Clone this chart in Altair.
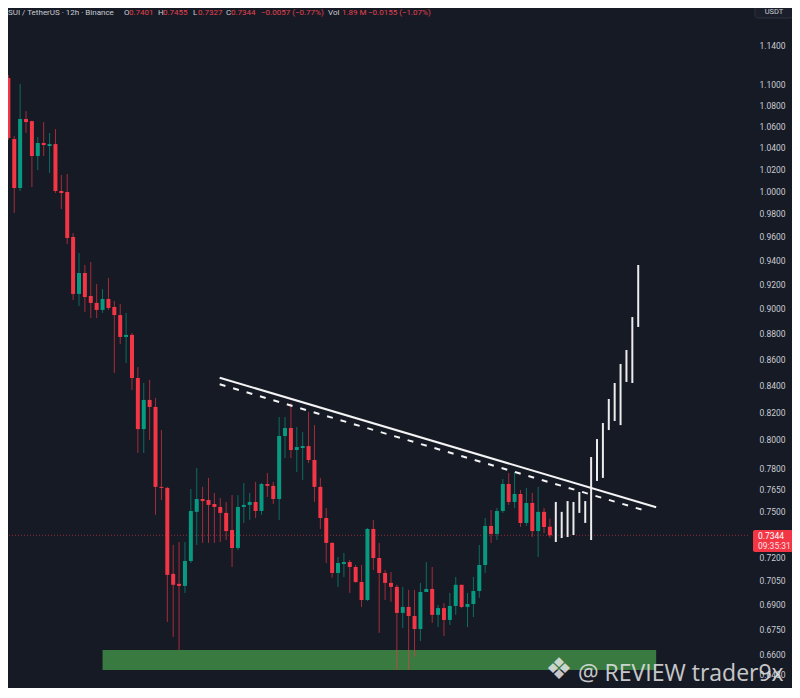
import altair as alt
import pandas as pd

# ---- candle data (12h SUI/USDT) ----
opens = [1.1068, 1.0478, 1.0028, 1.0668, 1.0648, 1.0320, 1.0441, 1.0413, 1.0431, 1.0001,
         0.9992, 0.9597, 0.9119, 0.9292, 0.9102, 0.9046, 0.8989, 0.9078, 0.9013, 0.8948,
         0.8774, 0.8790, 0.8457, 0.8078, 0.8292, 0.8240, 0.7670, 0.7663, 0.7094, 0.7031,
         0.7018, 0.7177, 0.7500, 0.7587, 0.7580, 0.7553, 0.7533, 0.7493, 0.7379, 0.7261,
         0.7533, 0.7547, 0.7567, 0.7506, 0.7690, 0.7677, 0.7587, 0.8028, 0.8086, 0.7928,
         0.7942, 0.7956, 0.7857, 0.7670, 0.7459, 0.7294, 0.7100, 0.7157, 0.7170, 0.7138,
         0.7043, 0.6930, 0.7386, 0.7196, 0.7100, 0.7037, 0.7012, 0.6850, 0.6887, 0.6831,
         0.6752, 0.6980, 0.6999, 0.6838, 0.6880, 0.6807, 0.6893, 0.7025, 0.6887, 0.6905,
         0.6986, 0.7151, 0.7406, 0.7353, 0.7506, 0.7690, 0.7567, 0.7621, 0.7426, 0.7560,
         0.7372, 0.7500, 0.7401]
highs = [1.1098, 1.0507, 1.1008, 1.0744, 1.0652, 1.0497, 1.0639, 1.0535, 1.0572, 1.0146,
         1.0155, 0.9631, 0.9460, 0.9359, 0.9384, 0.9201, 0.9159, 0.9251, 0.9062, 0.9038,
         0.8965, 0.8805, 0.8541, 0.8419, 0.8442, 0.8307, 0.8071, 0.7670, 0.7281, 0.7300,
         0.7300, 0.7656, 0.7801, 0.7670, 0.7732, 0.7628, 0.7594, 0.7567, 0.7614, 0.7614,
         0.7697, 0.7628, 0.7704, 0.7697, 0.7766, 0.7704, 0.8166, 0.8166, 0.8270, 0.8093,
         0.8057, 0.8203, 0.8107, 0.7732, 0.7526, 0.7300, 0.7202, 0.7229, 0.7183, 0.7151,
         0.7151, 0.7392, 0.7446, 0.7294, 0.7119, 0.7106, 0.7025, 0.7012, 0.6993, 0.6993,
         0.7037, 0.7170, 0.7138, 0.6899, 0.6911, 0.6974, 0.7075, 0.7025, 0.6974, 0.7075,
         0.7281, 0.7459, 0.7513, 0.7526, 0.7725, 0.7766, 0.7773, 0.7649, 0.7663, 0.7628,
         0.7670, 0.7526, 0.7455]
lows = [1.0469, 0.9806, 1.0001, 1.0535, 1.0037, 1.0191, 1.0320, 1.0164, 0.9983, 0.9841,
        0.9537, 0.9070, 0.9021, 0.8973, 0.8924, 0.8924, 0.8965, 0.8989, 0.8495, 0.8719,
        0.8571, 0.8366, 0.7907, 0.7907, 0.7999, 0.7480, 0.7580, 0.6795, 0.6704, 0.6626,
        0.6974, 0.7164, 0.7281, 0.7294, 0.7294, 0.7294, 0.7300, 0.7313, 0.7138, 0.7248,
        0.7426, 0.7446, 0.7459, 0.7480, 0.7601, 0.7553, 0.7446, 0.7871, 0.7871, 0.7773,
        0.7718, 0.7836, 0.7567, 0.7386, 0.7164, 0.7069, 0.7012, 0.7075, 0.6974, 0.7037,
        0.6887, 0.6924, 0.7119, 0.6728, 0.6930, 0.6918, 0.6508, 0.6758, 0.6508, 0.6585,
        0.6680, 0.6980, 0.6789, 0.6764, 0.6710, 0.6776, 0.6838, 0.6880, 0.6764, 0.6825,
        0.6943, 0.7100, 0.7294, 0.7313, 0.7493, 0.7547, 0.7526, 0.7399, 0.7406, 0.7333,
        0.7202, 0.7359, 0.7327]
closes = [1.0488, 1.0028, 1.0668, 1.0639, 1.0320, 1.0441, 1.0422, 1.0431, 1.0001, 0.9983,
          0.9588, 0.9119, 0.9292, 0.9094, 0.9046, 0.8989, 0.9078, 0.9005, 0.8948, 0.8774,
          0.8790, 0.8457, 0.8078, 0.8292, 0.8240, 0.7670, 0.7663, 0.7088, 0.7025, 0.7018,
          0.7177, 0.7506, 0.7587, 0.7573, 0.7547, 0.7533, 0.7493, 0.7372, 0.7261, 0.7533,
          0.7547, 0.7567, 0.7506, 0.7690, 0.7677, 0.7587, 0.8028, 0.8086, 0.7928, 0.7949,
          0.7956, 0.7857, 0.7670, 0.7459, 0.7294, 0.7100, 0.7164, 0.7170, 0.7138, 0.7043,
          0.6930, 0.7386, 0.7196, 0.7100, 0.7037, 0.7012, 0.6850, 0.6887, 0.6831, 0.6752,
          0.6980, 0.6999, 0.6838, 0.6880, 0.6807, 0.6893, 0.7025, 0.6887, 0.6905, 0.6986,
          0.7151, 0.7406, 0.7353, 0.7506, 0.7690, 0.7567, 0.7621, 0.7426, 0.7560, 0.7372,
          0.7500, 0.7399, 0.7344]

# ---- projected path (white bars) ----
proj_start = 93
proj_lows = [0.7300, 0.7326, 0.7333, 0.7346, 0.7493, 0.7426, 0.7313, 0.7711, 0.7732,
             0.8071, 0.8137, 0.8107, 0.8427, 0.8419, 0.8853]
proj_highs = [0.7567, 0.7500, 0.7573, 0.7567, 0.7635, 0.7573, 0.7878, 0.8006, 0.8122,
              0.8299, 0.8419, 0.8564, 0.8672, 0.8932, 0.9359]

# ---- drawings ----
trend_idx = [35.9, 110.05]
trend_price = [0.8459, 0.7531]
dash_idx = [35.9, 108.7]
dash_price = [0.8409, 0.7502]
zone_idx = [16.0, 110.05]
zone_price = [0.6626, 0.6508]
last_price = 0.7344

tick_values = [1.14, 1.10, 1.08, 1.06, 1.04, 1.02, 1.00, 0.98, 0.96, 0.94, 0.92, 0.90,
               0.88, 0.86, 0.84, 0.82, 0.80, 0.78, 0.765, 0.75, 0.72, 0.705, 0.69,
               0.675, 0.66, 0.648, 0.636]

BG = "#161a25"
UP = "#089981"
DOWN = "#f23645"
GRAY = "#c9ccd3"
FONT = "Roboto"

n = len(opens)
candles = pd.DataFrame({
    "i": list(range(n)),
    "open": opens, "high": highs, "low": lows, "close": closes,
})
candles["dir"] = ["up" if c >= o else "down" for o, c in zip(opens, closes)]

proj = pd.DataFrame({
    "i": list(range(proj_start, proj_start + len(proj_lows))),
    "lo": proj_lows, "hi": proj_highs,
})

xs = alt.Scale(domain=[0.788, 124.8], nice=False, zero=False)
ys = alt.Scale(type="log", domain=[0.6404, 1.1785], nice=False, zero=False)
col = alt.Color("dir:N", scale=alt.Scale(domain=["up", "down"], range=[UP, DOWN]), legend=None)

yaxis = alt.Axis(orient="right", values=tick_values, format=".4f", title=None,
                 labelColor=GRAY, labelFont=FONT, labelFontSize=8.5, labelPadding=11,
                 ticks=False, domain=False, grid=False, labelOverlap=False,
                 labelAlign="left", labelBaseline="middle", labelFlush=False)


def Y(field):
    return alt.Y(field, scale=ys, axis=yaxis)


def X(field):
    return alt.X(field, scale=xs, axis=None)


base = alt.Chart(candles)

zone = alt.Chart(pd.DataFrame({"x0": [zone_idx[0]], "x1": [zone_idx[1]],
                               "p0": [zone_price[0]], "p1": [zone_price[1]]})).mark_rect(
    color="#3b7f42", opacity=0.95).encode(
    x=X("x0:Q"), x2="x1:Q", y=Y("p0:Q"), y2="p1:Q")

pline = alt.Chart(pd.DataFrame({"p": [last_price]})).mark_rule(
    color=DOWN, opacity=0.55, strokeDash=[1, 2], strokeWidth=1).encode(
    y=Y("p:Q"))

wicks = base.mark_rule(strokeWidth=1, opacity=0.65, clip=True).encode(
    x=X("i:Q"), y=Y("low:Q"), y2="high:Q", color=col)

bodies = base.mark_bar(size=4, clip=True).encode(
    x=X("i:Q"), y=Y("open:Q"), y2="close:Q", color=col)

projbars = alt.Chart(proj).mark_rule(strokeWidth=2, color="#ececec").encode(
    x=X("i:Q"), y=Y("lo:Q"), y2="hi:Q")

solid = alt.Chart(pd.DataFrame({"i": trend_idx, "p": trend_price})).mark_line(
    color="#f4f4f4", strokeWidth=2).encode(x=X("i:Q"), y=Y("p:Q"))

dashed = alt.Chart(pd.DataFrame({"i": dash_idx, "p": dash_price})).mark_line(
    color="#f4f4f4", strokeWidth=2, strokeDash=[6, 8]).encode(x=X("i:Q"), y=Y("p:Q"))

one = pd.DataFrame({"k": [0]})


def txt(s, x, y, color, size=8.5, font=FONT, weight="normal", baseline="middle",
        align="left", opacity=1.0):
    return alt.Chart(one).mark_text(text=s, color=color, fontSize=size, font=font,
                                    fontWeight=weight, baseline=baseline, align=align,
                                    opacity=opacity).encode(
        x=alt.value(x), y=alt.value(y))


def box(x0, x1, y0, y1, fill, stroke=None, radius=0):
    kw = dict(color=fill, cornerRadius=radius)
    if stroke:
        kw.update(stroke=stroke, strokeWidth=1)
    return alt.Chart(one).mark_rect(**kw).encode(
        x=alt.value(x0), x2=alt.value(x1), y=alt.value(y0), y2=alt.value(y1))


HR = "#e3424f"
hy = 5
hs = 8
header = [
    txt("SUI / TetherUS · 12h · Binance", 0, hy, GRAY, hs),
    txt("O", 116, hy, GRAY, hs), txt("0.7401", 121, hy, HR, hs),
    txt("H", 150, hy, GRAY, hs), txt("0.7455", 155, hy, HR, hs),
    txt("L", 185, hy, GRAY, hs), txt("0.7327", 190, hy, HR, hs),
    txt("C", 218, hy, GRAY, hs), txt("0.7344", 223, hy, HR, hs),
    txt("−0.0057 (−0.77%)", 253, hy, HR, hs),
    txt("Vol", 320, hy, GRAY, hs), txt("1.89 M", 334, hy, HR, hs),
    txt("−0.0155 (−1.07%)", 360, hy, HR, hs),
]

price_box = [
    box(745, 785, 522, 544, DOWN, radius=2),
    txt("0.7344", 750, 528, "#ffffff", 8.5),
    txt("09:35:31", 750, 538, "#ffe0e3", 8.5),
]

usdt = [
    box(747, 785, -4, 10, "#1b1f2b", stroke="#2f3341", radius=3),
    txt("USDT", 766, 4, GRAY, 7.5, align="center"),
]

watermark = [
    txt("❖", 551, 662, "#e6e6e6", 30, font="DejaVu Sans", align="center", opacity=0.85),
    txt("@ REVIEW trader9x", 570, 673, "#e6e6e6", 23, font="Open Sans",
        baseline="alphabetic", opacity=0.85),
]

chart = alt.layer(
    zone, pline, wicks, bodies, projbars, solid, dashed,
    *header, *price_box, *usdt, *watermark
).properties(
    width=740, height=680,
    padding={"left": 0, "top": 0, "right": 44, "bottom": 0},
    autosize=alt.AutoSizeParams(type="none"),
    background=BG,
).configure_view(strokeWidth=0)

chart.save("out.html", embed_options={"renderer": "svg", "actions": False})
